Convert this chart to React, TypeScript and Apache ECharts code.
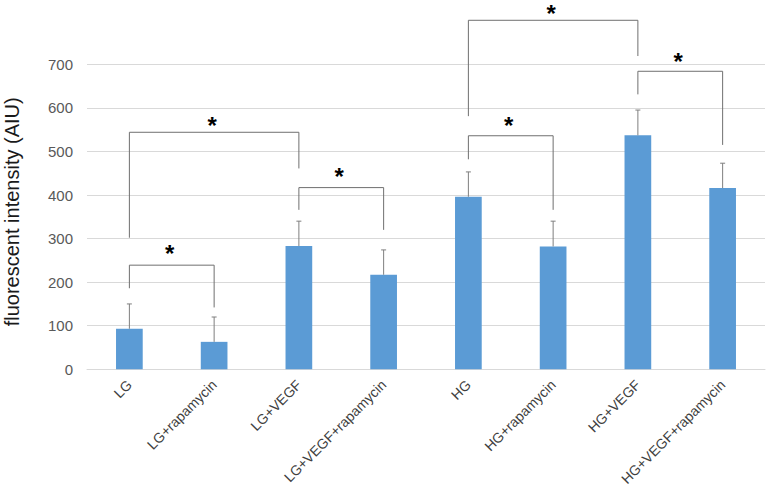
import React, { useEffect, useRef } from "react";
import * as echarts from "echarts";

const categories = [
  "LG",
  "LG+rapamycin",
  "LG+VEGF",
  "LG+VEGF+rapamycin",
  "HG",
  "HG+rapamycin",
  "HG+VEGF",
  "HG+VEGF+rapamycin",
];
const means = [93, 63, 283, 217, 396, 282, 537, 416];
const errors = [57, 57, 57, 57, 57, 58, 58, 57];
const yTicks = { min: 0, max: 700, interval: 100 };

// significance brackets: [fromIndex, toIndex]
const bracketPairs = [
  [0, 1],
  [0, 2],
  [2, 3],
  [4, 5],
  [4, 6],
  [6, 7],
];
const bracketTops = [239, 544, 417, 536, 801, 684];
const bracketLeftEnds = [186, 302, 366, 482, 581, 631];
const bracketRightEnds = [142, 461, 320, 366, 719, 515];
const starValues = [278, 572, 454, 571, 829, 719];

const FONT = "'Liberation Sans', Arial, sans-serif";

export default function App() {
  const ref = useRef<HTMLDivElement>(null);
  useEffect(() => {
    document.body.style.margin = "0";
    const chart = echarts.init(ref.current!, null, { renderer: "svg" });
    const errData = means.map((m, i) => [i, m, m + errors[i]]);
    const bracketData = bracketPairs.map((p, i) => [
      p[0],
      p[1],
      bracketTops[i],
      bracketLeftEnds[i],
      bracketRightEnds[i],
      starValues[i],
    ]);
    chart.setOption({
      animation: false,
      textStyle: { fontFamily: FONT },
      grid: {
        left: 87,
        right: 2,
        top: 64.3,
        bottom: 116.7,
        containLabel: false,
        outerBoundsMode: "none",
      },
      xAxis: {
        type: "category",
        data: categories,
        axisLine: { show: true, lineStyle: { color: "#d9d9d9" } },
        axisTick: { show: false },
        axisLabel: {
          interval: 0,
          rotate: 45,
          fontSize: 14,
          color: "#404040",
          fontFamily: FONT,
          margin: 13,
        },
      },
      yAxis: {
        type: "value",
        min: yTicks.min,
        max: yTicks.max,
        interval: yTicks.interval,
        name: "fluorescent intensity (AIU)",
        nameLocation: "middle",
        nameRotate: 90,
        nameGap: 65,
        nameTextStyle: {
          fontSize: 20,
          color: "#1a1a1a",
          fontFamily: FONT,
          padding: [0, 0, 0, 10],
        },
        axisLine: { show: false },
        axisTick: { show: false },
        axisLabel: { fontSize: 15, color: "#595959", margin: 14, fontFamily: FONT },
        splitLine: { lineStyle: { color: "#d9d9d9" } },
      },
      series: [
        {
          type: "bar",
          data: means,
          barWidth: "31.5%",
          itemStyle: { color: "#5b9bd5" },
          z: 2,
        },
        {
          type: "custom",
          data: errData,
          z: 3,
          renderItem: (params: any, api: any) => {
            const i = api.value(0);
            const base = api.coord([i, api.value(1)]);
            const top = api.coord([i, api.value(2)]);
            const c = { stroke: "#7f7f7f", lineWidth: 1 };
            return {
              type: "group",
              children: [
                { type: "line", shape: { x1: base[0], y1: base[1], x2: top[0], y2: top[1] }, style: c },
                { type: "line", shape: { x1: top[0] - 2.5, y1: top[1], x2: top[0] + 2.5, y2: top[1] }, style: c },
              ],
            };
          },
        },
        {
          type: "custom",
          data: bracketData,
          z: 4,
          clip: false,
          renderItem: (params: any, api: any) => {
            const a = api.value(0);
            const b = api.value(1);
            const tl = api.coord([a, api.value(2)]);
            const tr = api.coord([b, api.value(2)]);
            const bl = api.coord([a, api.value(3)]);
            const br = api.coord([b, api.value(4)]);
            const sy = api.coord([a, api.value(5)])[1];
            const sx = (tl[0] + tr[0]) / 2;
            return {
              type: "group",
              children: [
                {
                  type: "polyline",
                  shape: { points: [bl, tl, tr, br] },
                  style: { stroke: "#6f6f6f", lineWidth: 1, fill: null },
                },
                {
                  type: "text",
                  x: sx - 2,
                  y: sy + 5,
                  style: {
                    text: "*",
                    fontSize: 24,
                    fontWeight: "bold",
                    fontFamily: FONT,
                    fill: "#000",
                    align: "center",
                    verticalAlign: "middle",
                  },
                },
              ],
            };
          },
        },
      ],
    });
    return () => chart.dispose();
  }, []);
  return (
    <div
      ref={ref}
      style={{ position: "absolute", left: 0, top: 0, width: 767, height: 486 }}
    />
  );
}
